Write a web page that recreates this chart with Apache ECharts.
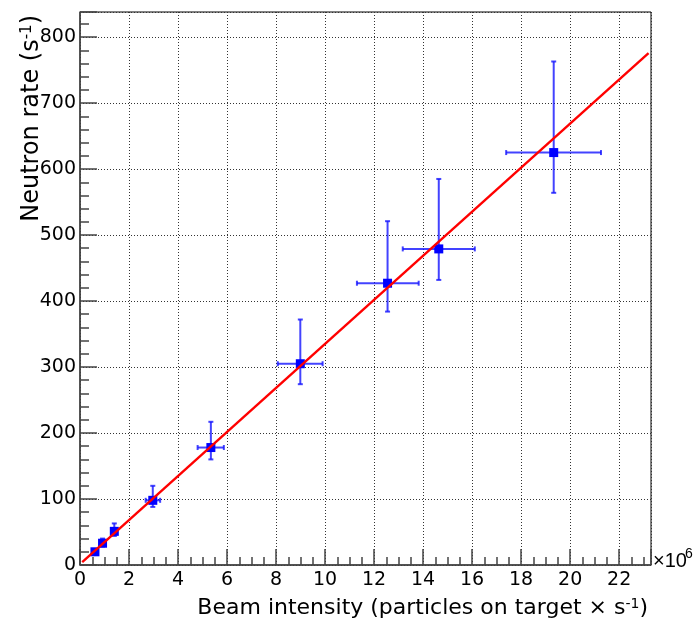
<!DOCTYPE html>
<html>
<head>
<meta charset="utf-8">
<script src="https://cdn.jsdelivr.net/npm/echarts@6/dist/echarts.min.js"></script>
<style>
  html, body { margin: 0; padding: 0; background: #fff; }
  #main { width: 699px; height: 626px; }
</style>
</head>
<body>
<div id="main"></div>
<script>
// measured points (beam intensity in 1e6 particles/s, neutron rate in 1/s)
const beamX = [0.61, 0.92, 1.40, 2.97, 5.34, 8.99, 12.55, 14.64, 19.33];
const rateY = [20, 33, 51, 98, 178, 305, 427, 479, 625];
// error bar bounds
const xLow  = [0.57, 0.86, 1.32, 2.68, 4.80, 8.07, 11.30, 13.17, 17.39];
const xHigh = [0.65, 0.98, 1.48, 3.27, 5.87, 9.90, 13.82, 16.11, 21.26];
const yLow  = [17, 28, 44, 88, 160, 274, 384, 432, 564];
const yHigh = [24, 40, 63, 120, 217, 372, 521, 585, 763];

// linear fit end points
const fitX = [0.09, 23.2];
const fitY = [4.5, 775.8];

const fontFam = 'DejaVu Sans';

const pointData = beamX.map((x, i) => [x, rateY[i]]);
const errData = beamX.map((x, i) => [x, rateY[i], xLow[i], xHigh[i], yLow[i], yHigh[i]]);
const fitData = fitX.map((x, i) => [x, fitY[i]]);

const myChart = echarts.init(document.getElementById('main'), null, { renderer: 'canvas' });

const option = {
  backgroundColor: '#fff',
  animation: false,
  // axis multiplier at the end of the x axis
  title: [
    {
      text: '×10',
      left: 653,
      top: 551,
      padding: 0,
      textStyle: { color: '#000', fontFamily: 'Liberation Sans', fontSize: 20, fontWeight: 'normal' },
    },
    {
      text: '6',
      left: 685,
      top: 547,
      padding: 0,
      textStyle: { color: '#000', fontFamily: 'Liberation Sans', fontSize: 14, fontWeight: 'normal' },
    },
  ],
  grid: {
    left: 80, top: 12, right: 48, bottom: 61,
    show: true, borderColor: '#000', borderWidth: 1,
    outerBoundsMode: 'none',
  },
  xAxis: {
    type: 'value',
    min: 0,
    max: 23.3,
    interval: 2,
    name: 'Beam intensity (particles on target × s{sup|-1})',
    nameLocation: 'end',
    nameGap: -3,
    nameMoveOverlap: false,
    nameTextStyle: {
      color: '#000', fontFamily: fontFam, fontSize: 22,
      align: 'right', verticalAlign: 'top', padding: [32, 0, 0, 0],
      rich: { sup: { fontSize: 14, verticalAlign: 'top', fontFamily: fontFam, color: '#000' } },
    },
    axisLine: { show: true, lineStyle: { color: '#444', width: 1.5 } },
    axisTick: { show: true, inside: true, length: 16, lineStyle: { color: '#444', width: 1.5 } },
    minorTick: { show: true, splitNumber: 4, length: 8, lineStyle: { color: '#444', width: 1.5 } },
    axisLabel: {
      color: '#000', fontFamily: fontFam, fontSize: 19, margin: 6,
      showMaxLabel: false,
    },
    splitLine: { show: true, lineStyle: { color: '#333', type: [1, 2], width: 1 } },
  },
  yAxis: {
    type: 'value',
    min: 0,
    max: 838,
    interval: 100,
    name: 'Neutron rate (s{sup|-1})',
    nameLocation: 'end',
    nameRotate: 90,
    nameGap: -3,
    nameMoveOverlap: false,
    nameTextStyle: {
      color: '#000', fontFamily: fontFam, fontSize: 24,
      align: 'right', verticalAlign: 'bottom', padding: [0, 0, 36, 0],
      rich: { sup: { fontSize: 15, verticalAlign: 'top', fontFamily: fontFam, color: '#000' } },
    },
    axisLine: { show: true, lineStyle: { color: '#444', width: 1.5 } },
    axisTick: { show: true, inside: true, length: 17, lineStyle: { color: '#444', width: 1.5 } },
    minorTick: { show: true, splitNumber: 5, length: 9, lineStyle: { color: '#444', width: 1.5 } },
    axisLabel: {
      color: '#000', fontFamily: fontFam, fontSize: 19, margin: 4,
      showMaxLabel: false,
    },
    splitLine: { show: true, lineStyle: { color: '#333', type: [1, 2], width: 1 } },
  },
  series: [
    {
      // error bars
      type: 'custom',
      z: 2,
      data: errData,
      renderItem: (params, api) => {
        const c = api.coord([api.value(0), api.value(1)]);
        const l = api.coord([api.value(2), api.value(1)]);
        const r = api.coord([api.value(3), api.value(1)]);
        const b = api.coord([api.value(0), api.value(4)]);
        const t = api.coord([api.value(0), api.value(5)]);
        const cap = 2.5;
        const style = { stroke: 'rgba(20,20,255,0.8)', lineWidth: 2 };
        const seg = (x1, y1, x2, y2) => ({ type: 'line', shape: { x1, y1, x2, y2 }, style });
        return {
          type: 'group',
          children: [
            seg(l[0], c[1], r[0], c[1]),
            seg(c[0], b[1], c[0], t[1]),
            seg(l[0], c[1] - cap, l[0], c[1] + cap),
            seg(r[0], c[1] - cap, r[0], c[1] + cap),
            seg(c[0] - cap, b[1], c[0] + cap, b[1]),
            seg(c[0] - cap, t[1], c[0] + cap, t[1]),
          ],
        };
      },
    },
    {
      type: 'scatter',
      z: 3,
      symbol: 'rect',
      symbolSize: 9,
      itemStyle: { color: '#0000ff', opacity: 1 },
      data: pointData,
    },
    {
      type: 'line',
      z: 4,
      showSymbol: false,
      symbol: 'none',
      lineStyle: { color: '#ff0000', width: 2.4 },
      data: fitData,
    },
  ],
};

myChart.setOption(option);
</script>
</body>
</html>
